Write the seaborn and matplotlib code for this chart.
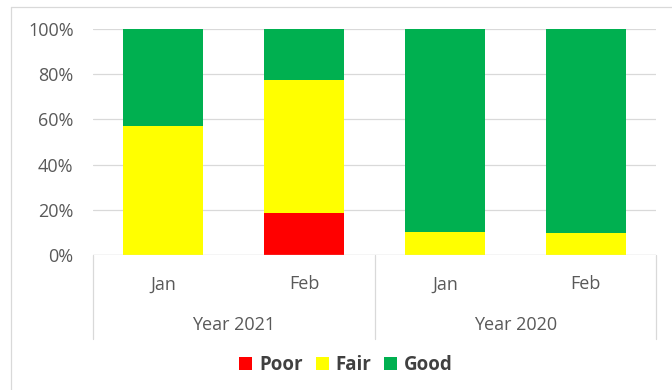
import matplotlib
matplotlib.use("Agg")
import matplotlib.pyplot as plt
from matplotlib.patches import Patch
from matplotlib.ticker import PercentFormatter
import seaborn as sns
import pandas as pd
import numpy as np

# Condition shares (%) per month
years = ["Year 2021", "Year 2021", "Year 2020", "Year 2020"]
months = ["Jan", "Feb", "Jan", "Feb"]
poor = [0.0, 18.4, 0.0, 0.0]
fair = [57.2, 59.2, 10.3, 9.6]
good = [42.8, 22.4, 89.7, 90.4]

series = ["Poor", "Fair", "Good"]
colors = {"Poor": "#FF0000", "Fair": "#FFFF00", "Good": "#00B050"}

keys = [f"{y} {m}" for y, m in zip(years, months)]
df = pd.DataFrame({"key": keys, "Poor": poor, "Fair": fair, "Good": good})
cum = df[series].cumsum(axis=1)

sns.set_style("white")
plt.rcParams["font.family"] = ["Open Sans", "DejaVu Sans"]

fig = plt.figure(figsize=(6.72, 3.9), dpi=100)
W, H = 672, 390
ax = fig.add_axes([93 / W, 1 - 255 / H, (656 - 93) / W, (255 - 29) / H])

# Stacked bars: draw cumulative totals from the top segment down
for s in reversed(series):
    sns.barplot(x=df["key"], y=cum[s], order=keys, color=colors[s],
                width=0.57, saturation=1, ax=ax, edgecolor="none", zorder=3)

ax.set_ylim(0, 100)
ax.set_xlim(-0.5, 3.5)
ax.set_yticks(np.arange(0, 101, 20))
ax.yaxis.set_major_formatter(PercentFormatter(decimals=0))
ax.tick_params(axis="y", length=0, pad=14, labelsize=13, labelcolor="#595959")
ax.set_xticks([])
ax.set_xlabel("")
ax.set_ylabel("")
ax.grid(axis="y", color="#D9D9D9", linewidth=0.9, zorder=0)
for sp in ax.spines.values():
    sp.set_visible(False)
ax.axhline(0, color="#D9D9D9", linewidth=0.9, zorder=4)

# Two-level category axis
xt = ax.get_xaxis_transform()
for i, m in enumerate(months):
    ax.text(i, -0.13, m, transform=xt, ha="center", va="center",
            fontsize=13, color="#595959")
groups = []
for i, y in enumerate(years):
    if not groups or groups[-1][0] != y:
        groups.append([y, i, i])
    else:
        groups[-1][2] = i
for y, a, b in groups:
    ax.text((a + b) / 2, -0.31, y, transform=xt, ha="center", va="center",
            fontsize=13, color="#595959")
for xb in [-0.5, 1.5, 3.5]:
    ax.plot([xb, xb], [0, -0.37], transform=xt, color="#D9D9D9",
            linewidth=0.9, clip_on=False)

# Legend
handles = [Patch(facecolor=colors[s], edgecolor="none", label=s) for s in series]
leg = fig.legend(handles=handles, loc="center", bbox_to_anchor=(346 / W, 1 - 365 / H),
                 ncol=3, frameon=False, handlelength=0.7, handleheight=0.7,
                 handletextpad=0.35, columnspacing=0.7,
                 prop={"size": 13.5, "weight": "bold"})
for t in leg.get_texts():
    t.set_color("#404040")

# Chart-area border
fig.add_artist(plt.Line2D([11 / W, 11 / W], [0, 1 - 7 / H], color="#D9D9D9",
                          linewidth=0.9, transform=fig.transFigure))
fig.add_artist(plt.Line2D([11 / W, 1], [1 - 7 / H, 1 - 7 / H], color="#D9D9D9",
                          linewidth=0.9, transform=fig.transFigure))

fig.savefig("out.png", dpi=100, facecolor="white")
